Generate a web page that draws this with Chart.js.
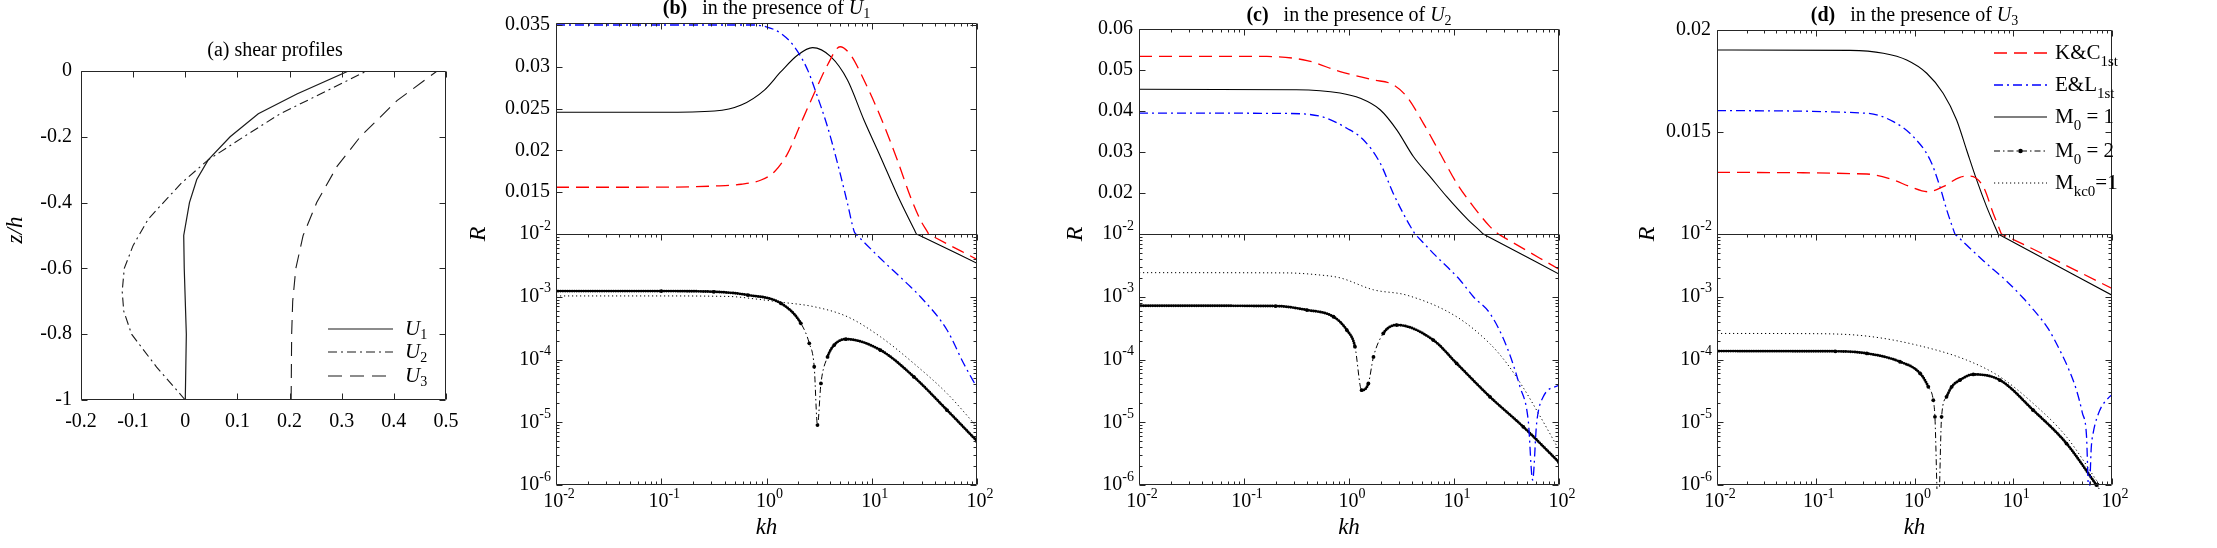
<!DOCTYPE html>
<html><head><meta charset="utf-8">
<script src="https://cdn.jsdelivr.net/npm/chart.js@4.4.1/dist/chart.umd.min.js"></script>
<style>
html,body{margin:0;padding:0;background:#fff;}
#wrap{position:relative;width:2217px;height:548px;background:#fff;}
canvas{position:absolute;left:0;top:0;}
</style></head><body>
<div id="wrap">
<canvas id="ca" width="2217" height="548"></canvas>
<canvas id="cb" width="2217" height="548"></canvas>
<canvas id="cc" width="2217" height="548"></canvas>
<canvas id="cd" width="2217" height="548"></canvas>
</div>
<script>
// ---------------- tick labels ----------------
const X_TICKS = [0.01, 0.1, 1, 10, 100];
const X_TICK_EXP = ['-2', '-1', '0', '1', '2'];
const R_LOG_TICKS = [1e-6, 1e-5, 1e-4, 1e-3, 1e-2];
const R_LOG_EXP = ['-6', '-5', '-4', '-3', '-2'];
const B_LIN_TICKS = [0.015, 0.02, 0.025, 0.03, 0.035];
const B_LIN_LABELS = ['0.015', '0.02', '0.025', '0.03', '0.035'];
const C_LIN_TICKS = [0.02, 0.03, 0.04, 0.05, 0.06];
const C_LIN_LABELS = ['0.02', '0.03', '0.04', '0.05', '0.06'];
const D_LIN_TICKS = [0.015, 0.02];
const D_LIN_LABELS = ['0.015', '0.02'];
const A_X_TICKS = [-0.2, -0.1, 0, 0.1, 0.2, 0.3, 0.4, 0.5];
const A_X_LABELS = ['-0.2', '-0.1', '0', '0.1', '0.2', '0.3', '0.4', '0.5'];
const A_Y_TICKS = [-1, -0.8, -0.6, -0.4, -0.2, 0];
const A_Y_LABELS = ['-1', '-0.8', '-0.6', '-0.4', '-0.2', '0'];

// ---------------- (a) shear profiles ----------------
const U1_z = [-1, -0.8, -0.6, -0.5, -0.4, -0.33, -0.27, -0.2, -0.13, -0.07, 0];
const U1_u = [0.0, 0.002, -0.002, -0.003, 0.008, 0.022, 0.044, 0.086, 0.14, 0.214, 0.313];
const U2_z = [-1, -0.9, -0.8, -0.73, -0.67, -0.6, -0.53, -0.45, -0.4, -0.34, -0.27, -0.2, -0.13, -0.07, 0];
const U2_u = [0, -0.055, -0.103, -0.118, -0.121, -0.117, -0.1, -0.071, -0.042, -0.007, 0.044, 0.112, 0.182, 0.259, 0.348];
const U3_z = [-1, -0.8, -0.7, -0.6, -0.5, -0.4, -0.29, -0.2, -0.09, 0];
const U3_u = [0.203, 0.204, 0.206, 0.212, 0.226, 0.252, 0.291, 0.3355, 0.406, 0.483];

// ---------------- (b) U1 ----------------
const B_KC_kh = [0.01, 0.1, 0.321, 0.575, 0.889, 1.19, 1.59, 2.12, 2.84, 3.80, 5.00, 6.31, 8.43, 12.1, 17.5, 23.3, 29.0, 33.8, 34.75, 36.3, 100];
const B_KC_R  = [0.01559, 0.0156, 0.01574, 0.01595, 0.01646, 0.01745, 0.01965, 0.02324, 0.02683, 0.03022, 0.0324, 0.03141, 0.02842, 0.02403, 0.01885, 0.01446, 0.01167, 0.01026, 0.0100, 0.0096, 0.00394];
const B_EL_kh = [0.01, 0.1, 0.5, 0.769, 1.03, 1.37, 1.84, 2.46, 3.05, 3.80, 4.73, 5.88, 6.81, 7.05, 7.35, 12.1, 21.7, 29.0, 51.9, 74.5, 100];
const B_EL_R  = [0.0350, 0.0350, 0.0350, 0.0350, 0.03473, 0.0340, 0.0324, 0.02962, 0.02643, 0.02283, 0.01846, 0.01367, 0.0103, 0.0100, 0.00933, 0.00407, 0.00162, 0.0010, 0.000295, 0.000087, 0.0000355];
const B_M1_kh = [0.01, 0.1, 0.321, 0.575, 0.955, 1.37, 1.98, 2.74, 4.08, 5.88, 8.43, 12.1, 17.5, 25.4, 26.6, 27.9, 100];
const B_M1_R  = [0.02456, 0.02456, 0.02471, 0.02543, 0.02722, 0.02941, 0.03141, 0.03229, 0.03121, 0.02842, 0.02364, 0.01925, 0.01467, 0.0105, 0.0100, 0.00963, 0.00341];
const B_M2_kh = [0.01, 0.1, 0.316, 0.665, 1.37, 2.12, 2.55, 2.84, 3.05, 3.29, 3.80, 4.40, 5.68, 12.1, 25.1, 51.9, 100];
const B_M2_R  = [1.23e-3, 1.23e-3, 1.2e-3, 1.064e-3, 7.85e-4, 3.77e-4, 1.81e-4, 7.66e-5, 9.0e-6, 4.16e-5, 1.1e-4, 1.7e-4, 2.11e-4, 1.41e-4, 5.3e-5, 1.56e-5, 5.0e-6];
const B_KC0_kh = [0.01, 0.1, 0.316, 0.5, 0.794, 1.37, 2.84, 5.88, 12.1, 25.1, 51.9, 100];
const B_KC0_R  = [1.03e-3, 1.03e-3, 1.02e-3, 1.0e-3, 9.2e-4, 8.2e-4, 6.93e-4, 4.8e-4, 2.3e-4, 8.65e-5, 2.88e-5, 8.45e-6];

// ---------------- (c) U2 ----------------
const C_KC_kh = [0.01, 0.165, 0.398, 0.822, 1.71, 2.64, 3.55, 5.11, 7.36, 10.6, 15.3, 22.0, 25.1, 26.4, 27.5, 100];
const C_KC_R  = [0.0533, 0.0533, 0.0523, 0.0496, 0.0476, 0.0464, 0.0435, 0.0370, 0.0297, 0.0224, 0.0167, 0.0118, 0.0105, 0.0100, 0.0096, 0.00274];
const C_EL_kh = [0.01, 0.251, 0.571, 0.953, 1.37, 1.98, 2.64, 3.55, 4.07, 4.26, 4.47, 6.35, 11.4, 15.3, 22.0, 31.8, 42.5, 50.9, 56.1, 61.2, 70.8, 100];
const C_EL_R  = [0.0395, 0.0394, 0.0385, 0.0358, 0.0330, 0.0273, 0.0199, 0.0134, 0.0108, 0.0100, 0.00918, 4.92e-3, 1.85e-3, 1.0e-3, 5.42e-4, 1.6e-4, 3.67e-5, 1.08e-5, 1.2e-6, 9.55e-6, 2.54e-5, 3.92e-5];
const C_M1_kh = [0.01, 0.316, 0.822, 1.28, 1.98, 2.85, 4.10, 5.92, 8.53, 13.2, 18.2, 19.0, 19.95, 100];
const C_M1_R  = [0.0453, 0.0452, 0.0444, 0.0431, 0.0403, 0.0354, 0.0289, 0.0240, 0.0191, 0.0138, 0.01046, 0.0100, 0.00958, 0.0023];
const C_M2_kh = [0.01, 0.2, 0.398, 0.711, 0.953, 1.14, 1.32, 1.53, 1.71, 2.12, 2.85, 6.35, 10.6, 22.0, 45.7, 100];
const C_M2_R  = [7.2e-4, 7.1e-4, 6.14e-4, 4.8e-4, 2.94e-4, 1.6e-4, 3.25e-5, 4.16e-5, 1.1e-4, 2.6e-4, 3.54e-4, 2.04e-4, 8.65e-5, 2.54e-5, 8.45e-6, 2.3e-6];
const C_KC0_kh = [0.01, 0.251, 0.501, 0.822, 1.71, 3.55, 10.6, 22.0, 31.8, 45.7, 65.8, 100];
const C_KC0_R  = [2.42e-3, 2.4e-3, 2.24e-3, 2.0e-3, 1.29e-3, 1.06e-3, 4.79e-4, 1.78e-4, 8.7e-5, 3.55e-5, 1.26e-5, 3.63e-6];

// ---------------- (d) U3 ----------------
const D_KC_kh = [0.01, 0.329, 0.611, 0.902, 1.38, 1.95, 2.88, 3.64, 4.97, 6.27, 7.24, 7.60, 7.94, 100];
const D_KC_R  = [0.01302, 0.01294, 0.01265, 0.01232, 0.01207, 0.01232, 0.01278, 0.01284, 0.01232, 0.01101, 0.01025, 0.0100, 0.00967, 1.36e-3];
const D_EL_kh = [0.01, 0.329, 0.611, 0.973, 1.44, 1.81, 2.12, 2.45, 2.57, 2.69, 5.01, 8.55, 12.6, 15.9, 22.4, 29.6, 36.3, 43.7, 50.1, 55.1, 58.5, 61.7, 64.3, 75.2, 91.2, 100];
const D_EL_R  = [0.01605, 0.01592, 0.01551, 0.01477, 0.01363, 0.01232, 0.01118, 0.01028, 0.0100, 9.35e-3, 3.72e-3, 1.78e-3, 9.55e-4, 6.3e-4, 3.16e-4, 1.41e-4, 7.1e-5, 3.24e-5, 1.41e-5, 6.3e-6, 6.3e-7, 4e-6, 6.6e-6, 1.55e-5, 2.4e-5, 2.75e-5];
const D_M1_kh = [0.01, 0.223, 0.484, 0.834, 1.33, 1.95, 2.67, 3.37, 4.26, 5.37, 6.76, 7.05, 7.41, 100];
const D_M1_R  = [0.01902, 0.0190, 0.01886, 0.01853, 0.01788, 0.0169, 0.01559, 0.01412, 0.01265, 0.01134, 0.0102, 0.0100, 0.00958, 1.06e-3];
const D_M2_kh = [0.01, 0.158, 0.329, 0.713, 1.14, 1.38, 1.55, 1.61, 1.74, 1.88, 2.11, 2.38, 2.88, 3.94, 7.33, 15.9, 34.6, 69.5, 100];
const D_M2_R  = [1.36e-4, 1.35e-4, 1.25e-4, 9.2e-5, 6.0e-5, 3.67e-5, 2.25e-5, 1.22e-5, 3e-7, 1.22e-5, 2.54e-5, 3.67e-5, 4.69e-5, 5.78e-5, 4.69e-5, 1.56e-5, 4.58e-6, 1.0e-6, 4.5e-7];
const D_KC0_kh = [0.01, 0.1, 0.329, 1.05, 3.37, 7.33, 15.9, 34.6, 69.5, 100];
const D_KC0_R  = [2.6e-4, 2.58e-4, 2.36e-4, 1.7e-4, 9.8e-5, 5.3e-5, 2.0e-5, 5.86e-6, 1.19e-6, 5.0e-7];

// ================= rendering =================
const W = 2217, H = 548;
const FONT = "'Liberation Serif','Times New Roman',serif";
const AX = '#262626';
function fnt(size, style) { return (style ? style + ' ' : '') + size + 'px ' + FONT; }

// split scale: linear above splitVal, logarithmic below
class SplitRScale extends Chart.LinearScale {
  determineDataLimits() { this.min = this.options.logMin; this.max = this.options.linMax; }
  buildTicks() { return []; }
  _sp() { return this.top + (this.bottom - this.top) * this.options.splitFrac; }
  getPixelForValue(v) {
    const o = this.options, sp = this._sp();
    if (v >= o.splitVal) return sp - (v - o.splitVal) / (o.linMax - o.splitVal) * (sp - this.top);
    const lmin = Math.log10(o.logMin), ls = Math.log10(o.splitVal);
    return this.bottom - (Math.log10(v) - lmin) / (ls - lmin) * (this.bottom - sp);
  }
  getValueForPixel(p) {
    const o = this.options, sp = this._sp();
    if (p <= sp) return o.splitVal + (sp - p) / (sp - this.top) * (o.linMax - o.splitVal);
    const lmin = Math.log10(o.logMin), ls = Math.log10(o.splitVal);
    return Math.pow(10, lmin + (this.bottom - p) / (this.bottom - sp) * (ls - lmin));
  }
}
SplitRScale.id = 'splitR';
SplitRScale.defaults = {};
Chart.register(SplitRScale);

function pts(xs, ys) { return xs.map((x, i) => ({x: x, y: ys[i]})); }
function steep(c) { return Math.abs(c.p1.y - c.p0.y) > 2.2 * Math.abs(c.p1.x - c.p0.x); }
const S_KC = {borderColor: '#ff0000', borderDash: [13, 7], borderWidth: 1.3};
const S_EL = {borderColor: '#0000ff', borderDash: [9, 4, 2, 4], borderWidth: 1.3};
const S_M1 = {borderColor: '#000000', borderWidth: 1.1};
const S_M2 = {borderColor: '#000000', borderDash: [6, 3, 1.5, 3], borderWidth: 1, pointRadius: 1.9, pointBackgroundColor: '#000', pointBorderWidth: 0};
const S_M2D = {borderColor: '#000000', borderDash: [0, 2.3], borderWidth: 2.9, borderCapStyle: 'round',
  segment: {borderColor: c => steep(c) ? 'rgba(0,0,0,0)' : '#000000'}};
const S_KC0 = {borderColor: '#000000', borderDash: [1.2, 2.8], borderWidth: 1};
function ds(xs, ys, st) {
  return Object.assign({data: pts(xs, ys), pointRadius: 0, fill: false, cubicInterpolationMode: 'monotone', borderWidth: 1.2}, st);
}

function richW(ctx, parts) { let w = 0; for (const p of parts) { ctx.font = p.font; w += ctx.measureText(p.t).width; } return w; }
function drawRich(ctx, parts, x, y, align) {
  const w = richW(ctx, parts);
  let cx = align === 'center' ? x - w / 2 : (align === 'right' ? x - w : x);
  ctx.textAlign = 'left'; ctx.textBaseline = 'middle'; ctx.fillStyle = '#000';
  for (const p of parts) { ctx.font = p.font; ctx.fillText(p.t, cx, y + (p.dy || 0)); cx += ctx.measureText(p.t).width; }
}
function powParts(e) { return [{t: '10', font: fnt(20)}, {t: e, font: fnt(14), dy: -8}]; }
function sx(v) { return Math.round(v) + 0.5; }
function line(ctx, x0, y0, x1, y1) { ctx.moveTo(x0, y0); ctx.lineTo(x1, y1); }
function vlabel(ctx, text, x, y, font) {
  ctx.save(); ctx.translate(x, y); ctx.rotate(-Math.PI / 2);
  ctx.font = font; ctx.textAlign = 'center'; ctx.textBaseline = 'middle'; ctx.fillStyle = '#000';
  ctx.fillText(text, 0, 0); ctx.restore();
}
function legendLine(ctx, x0, x1, y, st) {
  ctx.save(); ctx.beginPath(); ctx.strokeStyle = st.borderColor; ctx.lineWidth = st.borderWidth || 1.2;
  ctx.setLineDash(st.borderDash || []); line(ctx, x0, y, x1, y); ctx.stroke(); ctx.restore();
}

function splitDeco(P) {
  return {
    id: 'deco',
    afterDatasetsDraw(chart) {
      const ctx = chart.ctx, a = chart.chartArea, xs = chart.scales.x, ys = chart.scales.y;
      const L = sx(a.left), R = sx(a.right - 1), T = sx(a.top), B = sx(a.bottom - 1);
      const S = sx(ys.getPixelForValue(0.01));
      ctx.save();
      ctx.strokeStyle = AX; ctx.lineWidth = 1; ctx.setLineDash([]);
      ctx.beginPath();
      line(ctx, L, T, R, T); line(ctx, L, B, R, B); line(ctx, L, T, L, B); line(ctx, R, T, R, B); line(ctx, L, S, R, S);
      for (let d = 0; d < X_TICKS.length; d++) {
        const base = X_TICKS[d];
        for (let m = 1; m <= 9; m++) {
          if (d === X_TICKS.length - 1 && m > 1) break;
          const x = sx(xs.getPixelForValue(base * m));
          const len = m === 1 ? 6 : 3;
          line(ctx, x, T, x, T + len); line(ctx, x, S, x, S + len); line(ctx, x, B, x, B - len);
        }
      }
      for (const v of P.linTicks) { const y = sx(ys.getPixelForValue(v)); line(ctx, L, y, L + 6, y); line(ctx, R, y, R - 6, y); }
      for (let d = 0; d < R_LOG_TICKS.length; d++) {
        const base = R_LOG_TICKS[d];
        for (let m = 1; m <= 9; m++) {
          if (d === R_LOG_TICKS.length - 1 && m > 1) break;
          const y = sx(ys.getPixelForValue(base * m));
          const len = m === 1 ? 6 : 3;
          line(ctx, L, y, L + len, y); line(ctx, R, y, R - len, y);
        }
      }
      ctx.stroke();
      ctx.fillStyle = '#000';
      for (let i = 0; i < P.linTicks.length; i++) {
        drawRich(ctx, [{t: P.linLabels[i], font: fnt(20)}], a.left - 6, ys.getPixelForValue(P.linTicks[i]), 'right');
      }
      for (let i = 0; i < R_LOG_TICKS.length; i++) {
        drawRich(ctx, powParts(R_LOG_EXP[i]), a.left - 5, ys.getPixelForValue(R_LOG_TICKS[i]), 'right');
      }
      for (let i = 0; i < X_TICKS.length; i++) {
        drawRich(ctx, powParts(X_TICK_EXP[i]), xs.getPixelForValue(X_TICKS[i]) + 3, a.bottom + 17, 'center');
      }
      drawRich(ctx, [{t: 'kh', font: fnt(23, 'italic')}], (a.left + a.right) / 2, a.bottom + 43, 'center');
      vlabel(ctx, 'R', P.rx, 234, fnt(24, 'italic'));
      drawRich(ctx, [{t: P.tag, font: fnt(20, 'bold')}, {t: '   in the presence of ', font: fnt(20)},
        {t: 'U', font: fnt(20, 'italic')}, {t: P.sub, font: fnt(14), dy: 5}], (a.left + a.right) / 2, P.ty, 'center');
      if (P.legend) {
        const x0 = 1994, x1 = 2047, tx = 2055, rows = [53, 85, 117, 151, 183];
        legendLine(ctx, x0, x1, rows[0], S_KC);
        legendLine(ctx, x0, x1, rows[1], S_EL);
        legendLine(ctx, x0, x1, rows[2], S_M1);
        legendLine(ctx, x0, x1, rows[3], S_M2);
        ctx.beginPath(); ctx.fillStyle = '#000'; ctx.arc((x0 + x1) / 2, rows[3], 2.3, 0, Math.PI * 2); ctx.fill();
        legendLine(ctx, x0, x1, rows[4], S_KC0);
        drawRich(ctx, [{t: 'K&C', font: fnt(21)}, {t: '1st', font: fnt(15), dy: 9}], tx, rows[0], 'left');
        drawRich(ctx, [{t: 'E&L', font: fnt(21)}, {t: '1st', font: fnt(15), dy: 9}], tx, rows[1], 'left');
        drawRich(ctx, [{t: 'M', font: fnt(21)}, {t: '0', font: fnt(15), dy: 9}, {t: ' = 1', font: fnt(21)}], tx, rows[2], 'left');
        drawRich(ctx, [{t: 'M', font: fnt(21)}, {t: '0', font: fnt(15), dy: 9}, {t: ' = 2', font: fnt(21)}], tx, rows[3], 'left');
        drawRich(ctx, [{t: 'M', font: fnt(21)}, {t: 'kc0', font: fnt(15), dy: 9}, {t: '=1', font: fnt(21)}], tx, rows[4], 'left');
      }
      ctx.restore();
    }
  };
}

function splitChart(id, box, linMax, P, sets) {
  return new Chart(document.getElementById(id), {
    type: 'line',
    data: {datasets: sets},
    options: {
      responsive: false, animation: false, devicePixelRatio: 1, events: [],
      layout: {padding: {left: box.L, top: box.T, right: W - box.R, bottom: H - box.B}},
      plugins: {legend: {display: false}, tooltip: {enabled: false}, title: {display: false}},
      scales: {
        x: {type: 'logarithmic', min: 0.01, max: 100, display: false},
        y: {type: 'splitR', display: false, logMin: 1e-6, splitVal: 0.01, linMax: linMax, splitFrac: (234 - box.T) / (box.B - box.T)}
      }
    },
    plugins: [splitDeco(P)]
  });
}

function panelSets(kc, el, m1, m2, kc0) {
  return [
    ds(kc[0], kc[1], S_KC), ds(el[0], el[1], S_EL), ds(m1[0], m1[1], S_M1),
    ds(m2[0], m2[1], S_M2D), ds(m2[0], m2[1], S_M2), ds(kc0[0], kc0[1], S_KC0)
  ];
}

splitChart('cb', {L: 556, R: 977, T: 23, B: 485}, 0.03524,
  {linTicks: B_LIN_TICKS, linLabels: B_LIN_LABELS, rx: 479, tag: '(b)', sub: '1', ty: 9},
  panelSets([B_KC_kh, B_KC_R], [B_EL_kh, B_EL_R], [B_M1_kh, B_M1_R], [B_M2_kh, B_M2_R], [B_KC0_kh, B_KC0_R]));
splitChart('cc', {L: 1139, R: 1559, T: 29, B: 485}, 0.06,
  {linTicks: C_LIN_TICKS, linLabels: C_LIN_LABELS, rx: 1076, tag: '(c)', sub: '2', ty: 16},
  panelSets([C_KC_kh, C_KC_R], [C_EL_kh, C_EL_R], [C_M1_kh, C_M1_R], [C_M2_kh, C_M2_R], [C_KC0_kh, C_KC0_R]));
splitChart('cd', {L: 1717, R: 2112, T: 30, B: 485}, 0.02,
  {linTicks: D_LIN_TICKS, linLabels: D_LIN_LABELS, rx: 1648, tag: '(d)', sub: '3', ty: 16, legend: true},
  panelSets([D_KC_kh, D_KC_R], [D_EL_kh, D_EL_R], [D_M1_kh, D_M1_R], [D_M2_kh, D_M2_R], [D_KC0_kh, D_KC0_R]));

// ---------------- panel (a) ----------------
const S_U1 = {borderColor: '#1a1a1a', borderWidth: 1.2};
const S_U2 = {borderColor: '#1a1a1a', borderWidth: 1.1, borderDash: [9, 4, 2, 4]};
const S_U3 = {borderColor: '#1a1a1a', borderWidth: 1.1, borderDash: [14, 8]};
const decoA = {
  id: 'decoA',
  afterDatasetsDraw(chart) {
    const ctx = chart.ctx, a = chart.chartArea, xs = chart.scales.x, ys = chart.scales.y;
    const L = sx(a.left), R = sx(a.right - 1), T = sx(a.top), B = sx(a.bottom - 1);
    ctx.save(); ctx.strokeStyle = AX; ctx.lineWidth = 1; ctx.beginPath();
    line(ctx, L, T, R, T); line(ctx, L, B, R, B); line(ctx, L, T, L, B); line(ctx, R, T, R, B);
    for (const v of A_X_TICKS) { const x = sx(xs.getPixelForValue(v)); line(ctx, x, T, x, T + 6); line(ctx, x, B, x, B - 6); }
    for (const v of A_Y_TICKS) { const y = sx(ys.getPixelForValue(v)); line(ctx, L, y, L + 6, y); line(ctx, R, y, R - 6, y); }
    ctx.stroke();
    for (let i = 0; i < A_X_TICKS.length; i++) drawRich(ctx, [{t: A_X_LABELS[i], font: fnt(20)}], xs.getPixelForValue(A_X_TICKS[i]), a.bottom + 22, 'center');
    for (let i = 0; i < A_Y_TICKS.length; i++) drawRich(ctx, [{t: A_Y_LABELS[i], font: fnt(20)}], a.left - 9, ys.getPixelForValue(A_Y_TICKS[i]), 'right');
    drawRich(ctx, [{t: '(a) shear profiles', font: fnt(20)}], 275, 51, 'center');
    vlabel(ctx, 'z/h', 16, 230, fnt(23, 'italic'));
    const x0 = 328, x1 = 393, tx = 405, rows = [329, 352, 376];
    legendLine(ctx, x0, x1, rows[0], S_U1); legendLine(ctx, x0, x1, rows[1], S_U2); legendLine(ctx, x0, x1, rows[2], S_U3);
    ['1', '2', '3'].forEach((s, i) => drawRich(ctx, [{t: 'U', font: fnt(21, 'italic')}, {t: s, font: fnt(14), dy: 6}], tx, rows[i], 'left'));
    ctx.restore();
  }
};
new Chart(document.getElementById('ca'), {
  type: 'line',
  data: {datasets: [
    Object.assign({data: pts(U1_u, U1_z), pointRadius: 0, tension: 0, fill: false}, S_U1),
    Object.assign({data: pts(U2_u, U2_z), pointRadius: 0, tension: 0, fill: false}, S_U2),
    Object.assign({data: pts(U3_u, U3_z), pointRadius: 0, tension: 0, fill: false}, S_U3)
  ]},
  options: {
    responsive: false, animation: false, devicePixelRatio: 1, events: [],
    layout: {padding: {left: 81, top: 71, right: W - 446, bottom: H - 400}},
    plugins: {legend: {display: false}, tooltip: {enabled: false}},
    scales: {
      x: {type: 'linear', min: -0.2, max: 0.5, display: false},
      y: {type: 'linear', min: -1, max: 0, display: false}
    }
  },
  plugins: [decoA]
});
</script>
</body></html>
